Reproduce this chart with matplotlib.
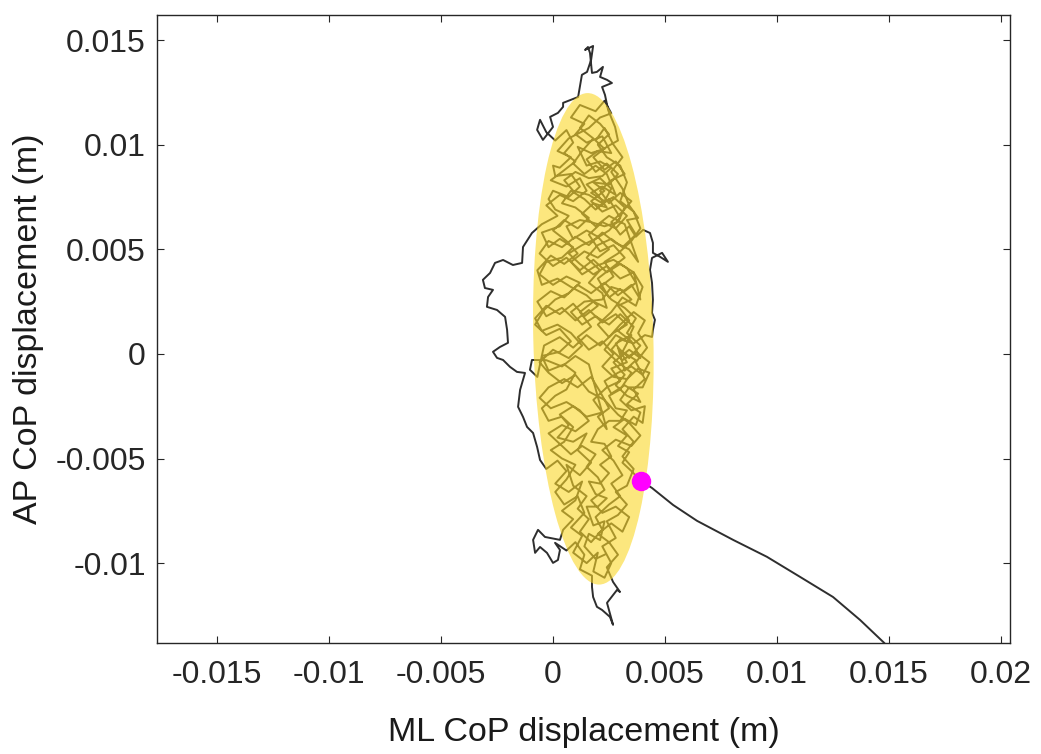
import numpy as np
import matplotlib
matplotlib.use("Agg")
import matplotlib.pyplot as plt
from matplotlib.patches import Ellipse

# CoP values in millimetres
tail_mm = [(15.71, -15.01), (14.78, -13.81), (13.71, -12.72), (12.5, -11.62),
           (11.03, -10.66), (9.55, -9.7), (8.04, -8.89), (6.43, -7.98),
           (5.36, -7.22), (4.42, -6.41), (3.93, -6.07)]

sway_mm = [
    (3.93, -6.07), (3.5, -5.6), (3.1, -5.2), (3.4, -4.7), (2.9, -4.4), (3.3, -3.9), (2.7, -3.5),
    (3.2, -3.1), (3.7, -3.4), (3.9, -2.8), (3.3, -2.4), (3.8, -1.9), (3.2, -1.5), (2.6, -1.9),
    (2.3, -1.3), (2.9, -0.9), (3.5, -0.6), (4.0, -1.0), (4.3, -0.4), (3.7, 0.1), (3.1, -0.3),
    (2.6, 0.2), (3.0, 0.7), (3.6, 0.5), (4.1, 0.9), (4.42, 0.81), (4.46, 1.15), (4.55, 1.63),
    (4.42, 1.96), (4.46, 2.58), (4.42, 3.39), (4.33, 4.02), (4.42, 4.59), (4.87, 4.83),
    (5.13, 4.4), (4.78, 4.64), (4.46, 4.83), (4.46, 5.31), (4.33, 5.78), (4.02, 5.93),
    (3.7, 5.6), (3.4, 6.1), (3.0, 5.7), (2.6, 6.3), (3.1, 6.8), (3.5, 7.3), (3.0, 7.7),
    (2.5, 7.2), (2.1, 7.8), (2.6, 8.3), (3.2, 8.6), (2.8, 9.2), (2.3, 8.8), (1.8, 9.4),
    (2.4, 9.9), (2.9, 10.2), (2.77, 10.85), (2.46, 11.66), (2.32, 12.38), (2.19, 12.76),
    (2.63, 12.95), (2.41, 13.1), (2.1, 13.24), (2.23, 13.72), (1.96, 13.48), (1.74, 13.43),
    (1.65, 14.39), (1.56, 14.67), (1.43, 14.53), (1.79, 14.72), (1.7, 14.05), (1.52, 13.48),
    (1.29, 13.34), (1.12, 12.28), (0.45, 12.0), (0.45, 11.81), (0.22, 11.52), (-0.13, 11.33),
    (0.0, 10.85), (-0.45, 10.23), (-0.71, 10.71), (-0.58, 11.19), (-0.3, 10.6), (0.1, 10.2),
    (0.6, 10.7), (0.9, 10.1), (0.5, 9.6), (1.0, 9.2), (0.4, 8.7), (-0.1, 8.3), (0.6, 8.0),
    (1.2, 8.4), (1.5, 7.8), (0.9, 7.3), (0.3, 7.6), (-0.3, 7.1), (0.2, 6.6), (-0.5, 6.2),
    (-0.94, 5.78), (-1.34, 5.11), (-1.38, 4.35), (-1.79, 4.25), (-2.23, 4.49), (-2.59, 4.35),
    (-2.81, 3.87), (-3.13, 3.54), (-3.04, 3.15), (-2.68, 3.06), (-2.9, 2.72), (-2.95, 2.25),
    (-2.5, 2.1), (-2.14, 1.77), (-2.05, 1.15), (-2.01, 0.53), (-2.37, 0.33), (-2.68, 0.1),
    (-2.5, -0.19), (-2.23, -0.29), (-1.92, -0.62), (-1.61, -0.86), (-1.25, -0.91),
    (-1.47, -1.72), (-1.56, -2.53), (-1.34, -3.01), (-1.16, -3.49), (-0.89, -3.78),
    (-0.71, -4.45), (-0.58, -5.07), (-0.3, -5.5), (0.2, -5.1), (0.6, -5.6), (0.1, -6.2),
    (0.7, -6.6), (1.3, -6.1), (1.0, -7.0), (0.4, -7.5), (0.9, -7.9), (0.45, -8.41),
    (0.31, -8.89), (-0.36, -8.75), (-0.67, -8.41), (-0.89, -8.89), (-0.8, -9.51),
    (-0.58, -9.23), (-0.27, -9.51), (0.0, -9.99), (0.22, -9.85), (0.31, -9.37), (0.09, -9.03),
    (0.6, -9.4), (1.0, -9.0), (1.4, -9.6), (1.2, -10.3), (1.74, -10.6), (1.74, -11.14),
    (1.79, -11.62), (1.96, -12.09), (2.19, -12.24), (2.54, -12.57), (2.68, -12.95),
    (2.41, -11.9), (2.86, -11.28), (2.99, -11.38), (2.68, -10.9), (2.4, -10.2), (2.9, -9.6),
    (2.5, -9.0), (2.0, -8.6), (2.6, -8.1), (3.1, -8.5), (3.4, -7.8), (2.8, -7.3), (2.2, -7.6),
    (1.7, -7.0), (2.3, -6.5), (2.0, -5.9), (1.5, -5.4), (1.9, -4.8), (1.3, -4.4), (0.8, -4.8),
    (0.3, -4.3), (-0.2, -3.8), (0.4, -3.4), (1.0, -3.7), (1.6, -3.2), (1.2, -2.7), (0.6, -2.3),
    (-0.1, -2.6), (-0.6, -2.1), (-0.2, -1.6), (0.5, -1.2), (1.1, -1.6), (1.7, -1.1),
    (2.1, -1.8), (2.5, -2.6), (2.0, -3.0), (2.4, -3.6), (1.6, -0.5), (1.0, -0.1), (0.4, -0.6),
    (-0.3, -0.3), (-0.94, -0.29), (-1.03, -0.76), (-0.7, -1.1), (-0.4, 0.4), (0.3, 0.8),
    (0.9, 0.3), (1.5, 0.9), (2.1, 0.4), (2.7, 1.0), (3.3, 1.4), (2.8, 1.9), (2.2, 1.5),
    (1.6, 2.1), (1.0, 1.6), (0.4, 2.2), (-0.3, 1.8), (-0.7, 2.5), (-0.1, 3.0), (0.5, 2.7),
    (1.1, 3.3), (1.7, 2.9), (2.3, 3.4), (2.9, 2.8), (3.5, 3.3), (3.9, 2.6), (3.6, 3.9),
    (3.0, 4.3), (2.4, 3.9), (1.8, 4.5), (1.2, 4.0), (0.6, 4.6), (0.0, 4.2), (-0.6, 4.8),
    (-0.2, 5.4), (0.4, 5.1), (1.0, 5.6), (1.6, 5.2), (2.2, 5.8), (2.8, 5.3), (3.4, 5.0),
    (3.8, 4.4), (3.2, 6.2), (2.5, 6.6), (1.9, 6.1), (1.3, 6.7), (1.8, 7.2), (2.4, 7.0),
    (2.0, 7.6), (1.5, 8.1), (2.1, 8.4), (2.6, 7.9), (2.3, 7.3), (1.7, 7.7), (2.2, 8.0),
    (2.8, 7.6), (2.4, 8.6), (1.9, 9.0), (1.4, 8.6), (0.9, 9.1), (1.3, 9.7), (1.8, 10.3),
    (1.2, 10.8), (1.6, 11.4), (2.1, 11.0), (2.5, 10.5), (2.0, 10.0), (2.4, 9.4), (3.0, 9.0),
    (3.3, 8.2), (3.0, 7.3), (3.6, 6.8), (3.9, 6.0), (3.5, 5.4), (2.9, 4.8), (2.3, 4.4),
    (2.7, 3.7), (2.1, 3.2), (2.6, 2.6), (3.2, 2.2), (3.7, 1.7), (3.3, 1.0), (3.9, 0.4),
    (3.4, -0.2), (2.9, 0.3), (3.2, -0.8), (3.7, -0.3), (3.1, 0.1), (3.5, 0.9), (2.8, 0.5),
    (3.3, -0.4), (2.6, -0.7), (3.0, -1.3), (2.4, -1.6), (1.8, -2.2), (2.2, -2.8), (1.5, -3.0),
    (0.9, -2.5), (0.3, -2.9), (0.7, -3.4), (0.2, -4.0), (0.9, -4.2), (1.5, -3.8), (1.1, -4.6),
    (1.7, -5.2), (1.2, -5.8), (0.6, -5.3), (0.9, -6.3), (1.5, -6.8), (1.1, -7.4), (1.6, -7.9),
    (1.2, -8.5), (1.7, -9.0), (2.2, -8.4), (1.9, -7.8), (2.5, -7.2), (3.0, -6.8), (2.6, -6.2),
    (3.1, -5.8), (2.7, -5.1), (2.2, -4.6), (2.8, -4.1), (3.5, -4.4), (3.9, -3.9), (3.4, -3.3),
    (2.9, -2.9), (2.3, -2.2), (1.6, -1.8), (1.0, -1.0), (0.4, -1.4), (-0.2, -0.9), (-0.6, -0.4),
    (0.0, 0.2), (0.7, -0.2), (1.3, 0.4), (0.8, 1.0), (0.2, 1.4), (-0.5, 1.1), (-0.8, 1.7),
    (-0.3, 2.3), (0.3, 1.9), (0.9, 2.4), (1.4, 1.8), (2.0, 2.3), (1.5, 2.8), (0.8, 3.2),
    (0.2, 3.6), (-0.5, 3.3), (-0.7, 4.0), (-0.1, 4.7), (0.5, 4.3), (1.1, 4.8), (0.6, 5.4),
    (0.0, 5.9), (0.5, 6.4), (1.1, 6.0), (1.6, 6.5), (1.0, 7.0), (0.4, 7.2), (0.8, 7.8),
    (1.4, 7.4), (1.9, 6.9), (2.5, 7.4), (3.0, 6.5), (2.5, 5.9), (1.9, 5.5), (1.3, 5.2),
    (0.7, 4.8), (1.2, 4.3), (1.8, 3.8), (2.4, 4.2), (3.0, 3.6), (3.6, 3.9), (4.0, 3.2),
    (3.7, 2.3), (3.1, 2.7), (2.6, 2.0), (2.0, 1.4), (2.5, 0.8), (3.0, 1.4), (3.6, 2.0),
    (4.1, 1.6), (3.8, 1.0), (4.2, 0.3), (3.7, -0.4), (4.1, -1.2), (3.6, -1.7), (3.9, -2.3),
    (3.3, -2.0), (2.8, -1.5), (3.2, -1.0), (2.7, -0.4), (3.4, 0.2), (3.9, -0.2), (3.5, 0.6),
    (2.9, 1.1), (3.4, 1.6), (2.9, 2.3), (3.5, 2.6), (3.0, 3.1), (2.5, 2.7), (2.0, 3.6),
    (2.6, 4.1), (3.2, 4.6), (2.7, 5.2), (2.1, 4.9), (1.6, 5.7), (2.2, 6.3), (2.8, 6.0),
    (3.3, 6.6), (2.8, 7.1), (2.2, 6.8), (1.7, 7.3), (2.3, 7.8), (1.8, 8.2), (2.5, 8.1),
    (2.9, 8.6), (2.4, 9.1), (1.9, 8.7), (1.5, 9.3), (2.0, 9.7), (2.6, 9.6), (2.2, 10.4),
    (1.5, 10.1), (1.0, 10.5), (1.4, 11.0), (0.8, 11.3), (1.2, 11.9), (1.9, 11.6), (2.3, 12.1),
    (2.6, 11.5), (2.1, 11.3), (1.6, 10.8), (0.7, 10.3), (0.2, 9.7), (0.8, 9.4), (0.3, 8.9),
    (0.0, 9.0), (0.1, 8.5), (0.8, 8.6), (1.2, 8.0), (0.7, 7.5), (0.0, 7.8), (-0.2, 7.4),
    (0.1, 6.9), (0.7, 6.6), (0.3, 6.1), (-0.5, 5.8), (-0.2, 5.1), (0.3, 5.5), (0.9, 5.1),
    (0.4, 4.6), (-0.3, 4.4), (-0.6, 3.8), (0.0, 3.3), (0.6, 3.7), (1.2, 3.4), (0.7, 2.9),
    (0.1, 2.6), (-0.4, 2.1), (-0.8, 1.4), (-0.3, 0.9), (0.3, 1.2), (0.8, 0.6), (0.3, 0.1),
    (-0.5, -0.1), (-0.2, -0.8), (0.5, -0.5), (1.0, -0.9), (0.6, -1.7), (0.1, -2.0),
    (-0.5, -2.6), (-0.2, -3.2), (0.4, -3.0), (0.9, -3.5), (0.5, -4.2), (-0.1, -4.6),
    (0.4, -5.0), (1.0, -5.3), (0.6, -6.0), (0.1, -6.6), (0.5, -7.2), (1.1, -6.8), (1.4, -7.6),
    (0.8, -8.3), (1.3, -8.7), (0.9, -9.5), (1.5, -10.0), (2.0, -9.5), (1.8, -10.4),
    (2.3, -10.7), (2.6, -10.0), (2.2, -9.2), (2.8, -8.8), (2.4, -8.0), (2.9, -7.7), (3.3, -7.2),
    (2.8, -6.6), (3.3, -6.3), (3.6, -5.5), (3.1, -4.9), (3.6, -4.2), (3.1, -3.6), (3.6, -3.0),
    (4.0, -3.3), (4.1, -2.5), (3.5, -2.7), (3.0, -2.2), (3.4, -1.6), (4.0, -1.6), (4.3, -0.9),
    (3.8, -0.7), (3.3, -1.2), (2.7, -1.1), (2.2, -0.6), (2.7, 0.0), (2.2, 0.6), (1.6, 0.2),
    (1.1, 0.8), (1.7, 1.3), (1.2, 2.0), (1.8, 2.5), (2.4, 2.2), (2.2, 2.9), (1.6, 3.4),
    (2.1, 4.0), (1.5, 4.6), (2.0, 5.2), (2.6, 5.5), (3.1, 5.1), (3.7, 5.7), (3.3, 6.4),
    (3.8, 6.5), (3.4, 7.1), (3.1, 7.9), (2.6, 8.7), (3.1, 9.4), (2.7, 10.0), (2.3, 10.8),
    (1.9, 10.2), (2.3, 9.8), (1.7, 9.6), (1.1, 9.9), (1.5, 9.0), (2.1, 9.2), (2.6, 8.9),
    (2.2, 8.5), (1.6, 8.4), (1.0, 8.7), (0.5, 8.3), (0.9, 7.8), (1.6, 7.6), (2.2, 7.2),
    (2.7, 7.5), (3.2, 7.0), (2.9, 6.3), (2.3, 6.1), (1.7, 6.3), (1.2, 6.4), (0.6, 6.1),
    (0.9, 5.5), (1.5, 5.9), (2.0, 5.6), (2.5, 5.0), (2.0, 4.6), (1.4, 4.9), (0.8, 4.4),
    (1.3, 3.8), (1.9, 4.2), (2.7, 4.5), (3.3, 4.1), (3.7, 3.4), (3.2, 3.0), (2.6, 3.2),
    (2.2, 2.6), (1.4, 2.5), (0.8, 2.0), (1.3, 1.4), (1.9, 1.8), (2.5, 1.4), (3.0, 1.9),
    (3.6, 1.3), (3.3, 0.6), (2.8, 0.9), (2.3, 0.2), (2.8, -0.3), (3.5, -0.9), (3.0, -1.7),
    (2.5, -2.0), (2.8, -2.6), (3.3, -2.7), (3.0, -3.2), (2.5, -3.2), (2.0, -3.6), (1.7, -4.2),
    (2.3, -4.3), (2.6, -4.9), (2.1, -5.3), (2.5, -5.7), (2.1, -6.2), (1.6, -6.1), (1.9, -6.7),
    (2.4, -6.9), (2.0, -7.3), (1.5, -7.3), (1.8, -8.2), (2.3, -8.0), (2.1, -8.9), (1.6, -8.6),
    (1.4, -9.2), (1.9, -9.8), (2.3, -9.6),
]

dot_mm = (3.93, -6.07)

# 95% ellipse (mm)
ell_center_mm = (1.8, 0.72)
ell_width_mm = 5.36
ell_height_mm = 23.5
ell_angle = 1.3

x_ticks = [-0.015, -0.01, -0.005, 0, 0.005, 0.01, 0.015, 0.02]
x_labels = ['-0.015', '-0.01', '-0.005', '0', '0.005', '0.01', '0.015', '0.02']
y_ticks = [-0.01, -0.005, 0, 0.005, 0.01, 0.015]
y_labels = ['-0.01', '-0.005', '0', '0.005', '0.01', '0.015']

plt.rcParams['font.family'] = ['Liberation Sans', 'DejaVu Sans']

path = np.array(tail_mm + sway_mm[1:]) / 1000

fig = plt.figure(figsize=(10.41, 7.54), dpi=100)
ax = fig.add_axes([0.1508, 0.1472, 0.8194, 0.8329])

ax.plot(path[:, 0], path[:, 1], color='#2e2e2e', lw=1.4, zorder=2)

ell = Ellipse((ell_center_mm[0] / 1000, ell_center_mm[1] / 1000),
              ell_width_mm / 1000, ell_height_mm / 1000, angle=ell_angle,
              facecolor='#FAD728', edgecolor='none', alpha=0.6, zorder=3)
ax.add_patch(ell)

ax.plot(dot_mm[0] / 1000, dot_mm[1] / 1000, 'o', color='#FF00FF', ms=13, zorder=4)

ax.set_xlim(-0.01768, 0.0204)
ax.set_ylim(-0.01382, 0.0162)
ax.set_xticks(x_ticks, x_labels)
ax.set_yticks(y_ticks, y_labels)
ax.tick_params(direction='in', length=5, width=0.8, top=True, right=True,
               labelsize=23, colors='#262626')
ax.tick_params(axis='x', pad=12)
ax.tick_params(axis='y', pad=8)
for s in ax.spines.values():
    s.set_color('#262626')
    s.set_linewidth(1.0)

ax.set_xlabel('ML CoP displacement (m)', fontsize=24.5, labelpad=20, color='#1a1a1a')
ax.set_ylabel('AP CoP displacement (m)', fontsize=24.5, labelpad=8, color='#1a1a1a')

fig.savefig('out.png', dpi=100)
